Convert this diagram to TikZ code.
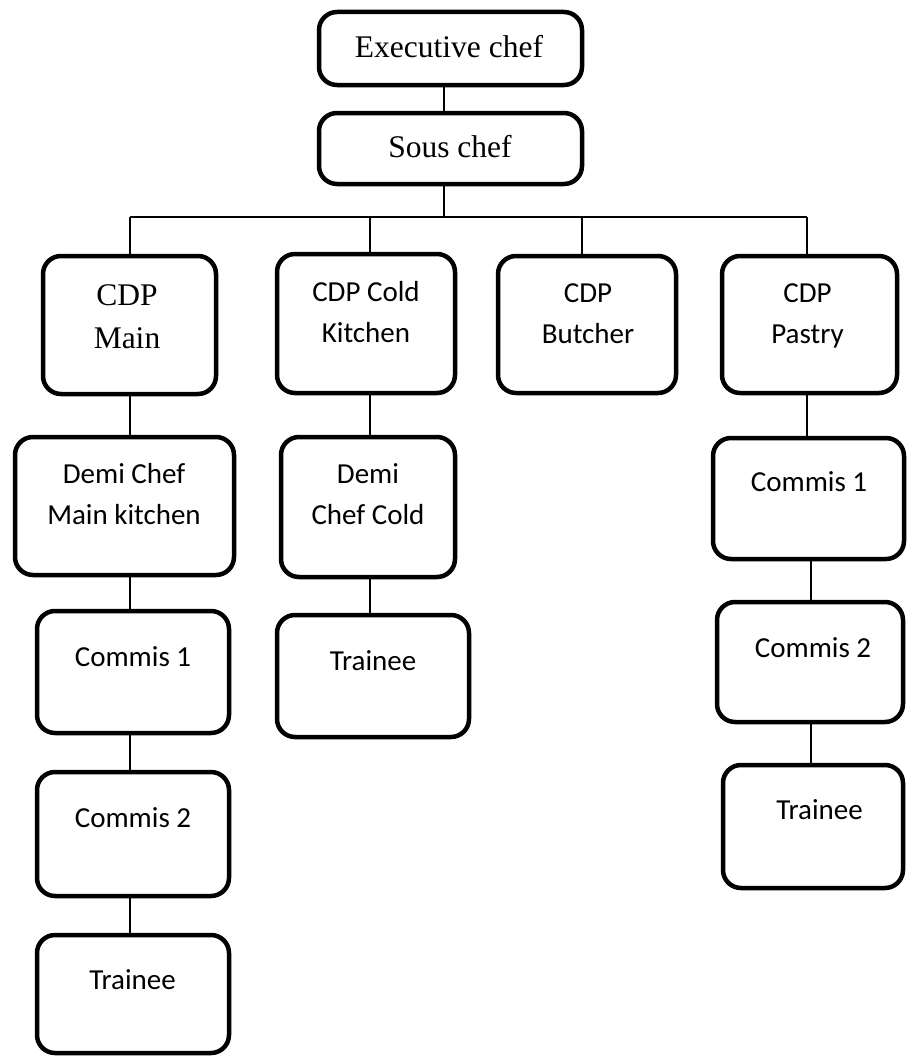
\documentclass[tikz,border=0pt]{standalone}
\usepackage{fontspec}
\setmainfont{Liberation Serif}
\newfontfamily\calfont{Carlito}
\begin{document}
\begin{tikzpicture}[x=1pt,y=-1pt,
  box/.style={draw=black, line width=4.5pt, rounded corners=18pt, fill=white,
    inner sep=0pt, minimum width=#1},
  conn/.style={draw=black, line width=1.5pt},
  serif/.style={font=\fontsize{31.5}{43}\selectfont, align=center, anchor=base, inner sep=0pt},
  sans/.style={font=\calfont\fontsize{29}{41}\selectfont, align=center, anchor=base, inner sep=0pt}]
\fill[white] (0,0) rectangle (907,1057);
\useasboundingbox (0,0) rectangle (907,1057);

% boxes
\node[box=263pt, minimum height=73pt] (exec) at (450.5,48.5) {};
\node[box=263pt, minimum height=71pt] (sous) at (450.5,148.5) {};
\node[box=173pt, minimum height=138pt] (main) at (129.5,325) {};
\node[box=178pt, minimum height=139pt] (cold) at (366,323.5) {};
\node[box=178pt, minimum height=137pt] (butcher) at (587,324.5) {};
\node[box=175pt, minimum height=137pt] (pastry) at (809.5,324.5) {};
\node[box=219pt, minimum height=138pt] (demimain) at (124.5,506) {};
\node[box=174pt, minimum height=140pt] (demicold) at (368,507) {};
\node[box=192pt, minimum height=122pt] (c1main) at (133,672) {};
\node[box=192pt, minimum height=124pt] (c2main) at (133,834) {};
\node[box=192pt, minimum height=118pt] (trmain) at (133,994) {};
\node[box=192pt, minimum height=122pt] (trcold) at (373,676) {};
\node[box=191pt, minimum height=121pt] (c1pastry) at (808.5,498.5) {};
\node[box=186pt, minimum height=120pt] (c2pastry) at (810,662) {};
\node[box=180pt, minimum height=123pt] (trpastry) at (813,826.5) {};

% texts (base anchor = baseline of the last line)
\node[serif] (texec) at (449,58) {Executive chef};
\node[serif] (tsous) at (450,157) {Sous chef};
\node[serif] (tmain) at (127,348) {CDP\\Main};
\node[sans] (tcold) at (366,342) {CDP Cold\\Kitchen};
\node[sans] (tbutcher) at (588,343) {CDP\\Butcher};
\node[sans] (tpastry) at (807.5,343) {CDP\\Pastry};
\node[sans] (tdemimain) at (124,524) {Demi Chef\\Main kitchen};
\node[sans] (tdemicold) at (368,524) {Demi\\Chef Cold};
\node[sans] (tc1main) at (133,666) {Commis 1};
\node[sans] (tc2main) at (133,827) {Commis 2};
\node[sans] (ttrmain) at (132.5,989) {Trainee};
\node[sans] (ttrcold) at (373,670) {Trainee};
\node[sans] (tc1pastry) at (809,491) {Commis 1};
\node[sans] (tc2pastry) at (813,657) {Commis 2};
\node[sans] (ttrpastry) at (819.5,819) {Trainee};

% column positions
\coordinate (xtop) at (444,217);
\coordinate (xmain) at (130,217);
\coordinate (xcold) at (370,217);
\coordinate (xbutcher) at (582,217);
\coordinate (xpastry) at (807,217);
\coordinate (xpastry2) at (811,217);

% connectors
\draw[conn] (exec.south -| xtop) -- (sous.north -| xtop);
\draw[conn] (sous.south -| xtop) -- (xtop);
\draw[conn] (xmain) -- (xpastry);
\draw[conn] (xmain) -- (main.north -| xmain);
\draw[conn] (xcold) -- (cold.north -| xcold);
\draw[conn] (xbutcher) -- (butcher.north -| xbutcher);
\draw[conn] (xpastry) -- (pastry.north -| xpastry);
\draw[conn] (main.south -| xmain) -- (demimain.north -| xmain);
\draw[conn] (demimain.south -| xmain) -- (c1main.north -| xmain);
\draw[conn] (c1main.south -| xmain) -- (c2main.north -| xmain);
\draw[conn] (c2main.south -| xmain) -- (trmain.north -| xmain);
\draw[conn] (cold.south -| xcold) -- (demicold.north -| xcold);
\draw[conn] (demicold.south -| xcold) -- (trcold.north -| xcold);
\draw[conn] (pastry.south -| xpastry) -- (c1pastry.north -| xpastry);
\draw[conn] (c1pastry.south -| xpastry2) -- (c2pastry.north -| xpastry2);
\draw[conn] (c2pastry.south -| xpastry2) -- (trpastry.north -| xpastry2);
\end{tikzpicture}
\end{document}
